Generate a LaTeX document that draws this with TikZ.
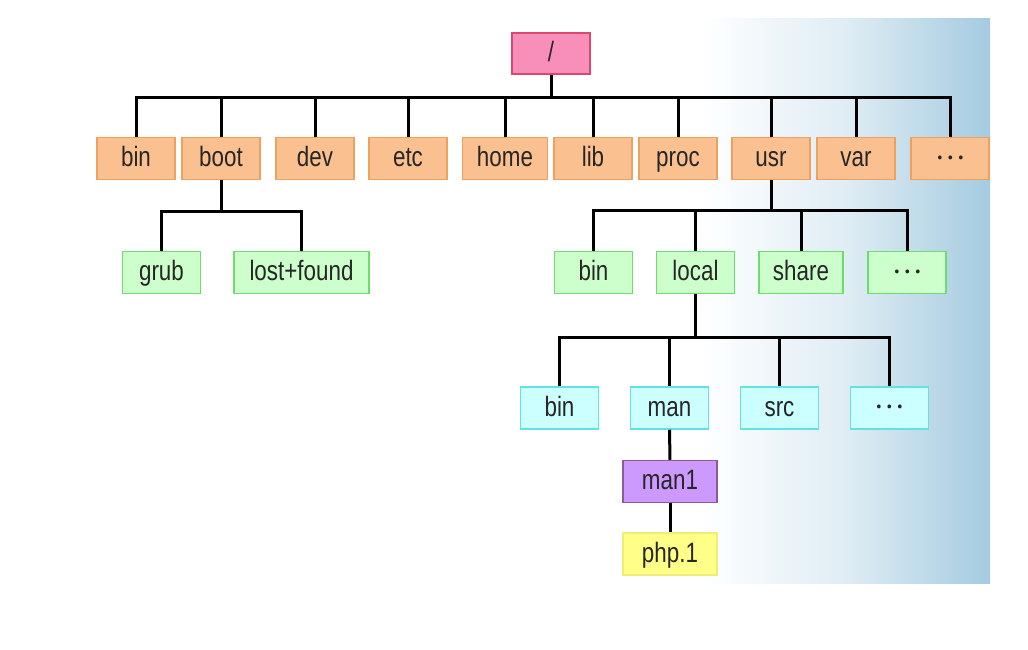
\documentclass[tikz,border=0pt]{standalone}
\usepackage{fontspec}
\setmainfont{Liberation Sans}[FakeStretch=0.8]
\newfontfamily\cjk{Noto Sans CJK SC}
\usetikzlibrary{positioning,calc}
\definecolor{rootpink}{RGB}{247,143,185}
\definecolor{rootedge}{RGB}{222,70,110}
\definecolor{dirorange}{RGB}{250,192,143}
\definecolor{orangeedge}{RGB}{238,160,95}
\definecolor{dirgreen}{RGB}{204,255,204}
\definecolor{greenedge}{RGB}{110,220,110}
\definecolor{dircyan}{RGB}{204,255,255}
\definecolor{cyanedge}{RGB}{100,225,225}
\definecolor{dirpurple}{RGB}{204,153,255}
\definecolor{purpleedge}{RGB}{140,90,150}
\definecolor{diryellow}{RGB}{255,255,136}
\definecolor{yellowedge}{RGB}{238,238,120}
\definecolor{bgblue}{RGB}{165,203,224}
\newcommand{\moredots}{\raisebox{7.5pt}{\cjk …}}

\begin{document}
\begin{tikzpicture}[x=1pt,y=-1pt,
  dirbox/.style={draw,line width=1.5pt,minimum width=78pt,minimum height=42pt,inner sep=0pt,
    text height=21pt,text depth=5pt,font=\fontsize{28}{30}\selectfont,text=black!85},
  rootdir/.style={dirbox,fill=rootpink,draw=rootedge,minimum height=41pt},
  topdir/.style={dirbox,fill=dirorange,draw=orangeedge},
  subdir/.style={dirbox,fill=dirgreen,draw=greenedge},
  localdir/.style={dirbox,fill=dircyan,draw=cyanedge},
  mandir/.style={dirbox,fill=dirpurple,draw=purpleedge,minimum width=94pt},
  filebox/.style={dirbox,fill=diryellow,draw=yellowedge,minimum width=94pt},
  link/.style={line width=3pt,black}]
\useasboundingbox (0,0) rectangle (1028,649);
% backdrop on the right
\shade[left color=white,right color=bgblue,middle color=bgblue!35] (700,18) rectangle (990,583);

% root and first level
\node[rootdir] (root) at (551,53.5) {/};
\foreach \name/\x/\w/\txt in {bin/136/78/bin,boot/221/78/boot,dev/315/78/dev,etc/408/78/etc,
    home/505/85/home,lib/593/78/lib,proc/678/78/proc,usr/771/78/usr,var/856/78/var,more/950/78/\moredots}
  \node[topdir,minimum width=\w pt] (\name) at (\x,158.5) {\txt};

% second level
\node[subdir] (grub) at (161.5,272.5) {grub};
\node[subdir,minimum width=135pt] (lostfound) at (301.5,272.5) {lost+found};
\node[subdir] (ubin) at (593.5,272.5) {bin};
\node[subdir] (local) at (695.5,272.5) {local};
\node[subdir,minimum width=84pt] (share) at (801,272.5) {share};
\node[subdir] (umore) at (907,272.5) {\moredots};

% third level
\node[localdir] (lbin) at (559.5,408) {bin};
\node[localdir] (man) at (669.5,408) {man};
\node[localdir] (src) at (779.5,408) {src};
\node[localdir] (lmore) at (889.5,408) {\moredots};
\node[mandir] (manone) at (670,481.5) {man1};
\node[filebox] (php) at (670,554) {php.1};

% connectors
\coordinate (rootbus) at ($(root.south)+(0,23)$);
\draw[link] (root.south) -- (rootbus);
\draw[link] (bin.north) |- (rootbus) -| (more.north);
\foreach \name in {boot,dev,etc,home,lib,proc,usr,var}
  \draw[link] (rootbus -| \name.north) -- (\name.north);

\coordinate (bootbus) at ($(boot.south)+(0,31.5)$);
\draw[link] (boot.south) -- (bootbus);
\draw[link] (grub.north) |- (bootbus) -| (lostfound.north);

\coordinate (usrbus) at ($(usr.south)+(0,30.5)$);
\draw[link] (usr.south) -- (usrbus);
\draw[link] (ubin.north) |- (usrbus) -| (umore.north);
\foreach \name in {local,share}
  \draw[link] (usrbus -| \name.north) -- (\name.north);

\coordinate (localbus) at ($(local.south)+(0,43)$);
\draw[link] (local.south) -- (localbus);
\draw[link] (lbin.north) |- (localbus) -| (lmore.north);
\foreach \name in {man,src}
  \draw[link] (localbus -| \name.north) -- (\name.north);

\draw[link] (man.south) -- (manone.north);
\draw[link] (manone.south) -- (php.north);
\end{tikzpicture}
\end{document}
